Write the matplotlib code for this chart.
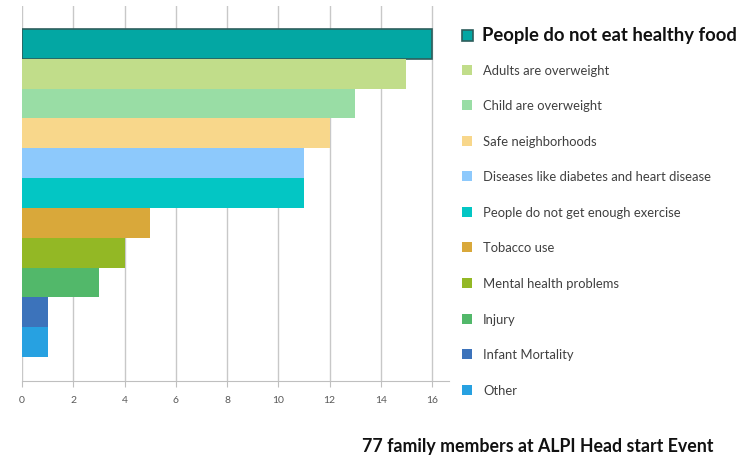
import numpy as np
import matplotlib.pyplot as plt
from matplotlib.patches import Rectangle

categories = [
    "People do not eat healthy food",
    "Adults are overweight",
    "Child are overweight",
    "Safe neighborhoods",
    "Diseases like diabetes and heart disease",
    "People do not get enough exercise",
    "Tobacco use",
    "Mental health problems",
    "Injury",
    "Infant Mortality",
    "Other",
]
values = [16, 15, 13, 12, 11, 11, 5, 4, 3, 1, 1]
colors = ["#03A7A3", "#C1DD8A", "#99DDA5", "#F8D78B", "#8DC9FC",
          "#03C6C4", "#D9A83A", "#93B825", "#52B86A", "#3C73BB", "#27A1E1"]
xticks = [0, 2, 4, 6, 8, 10, 12, 14, 16]
title = "77 family members at ALPI Head start Event"

plt.rcParams['font.family'] = ['Lato', 'DejaVu Sans']

W, H = 746, 456
fig = plt.figure(figsize=(W / 100, H / 100), dpi=100)
ax = fig.add_axes([22 / W, (H - 382) / H, (449 - 22) / W, (382 - 7) / H])

pos = np.arange(len(values))
for i, (v, c) in enumerate(zip(values, colors)):
    edge = "#2E5E5C" if i == 0 else c
    lw = 1.2 if i == 0 else 0
    ax.barh(pos[i], v, height=1.0, color=c, edgecolor=edge, linewidth=lw, zorder=3)

ax.set_xlim(0, 16.66)
ax.set_ylim(11.3, -1.27)
ax.set_xticks(xticks)
ax.set_yticks([])
for t in xticks:
    ax.axvline(t, color="#C8C8C8", linewidth=1, zorder=1)
for s in ["top", "right", "left"]:
    ax.spines[s].set_visible(False)
ax.spines["bottom"].set_color("#BFBFBF")
ax.tick_params(axis="x", colors="#BFBFBF", labelcolor="#595959", labelsize=7.5,
               length=4, direction="out", pad=6)

# legend drawn by hand to match spacing
leg_y = [36, 71, 106, 142, 177, 213, 248, 284, 320, 355, 391]
for i, (lab, c, yy) in enumerate(zip(categories, colors, leg_y)):
    if i == 0:
        sz = 11
        fig.patches.append(Rectangle(((467 - sz / 2) / W, (H - yy - sz / 2) / H), sz / W, sz / H,
                                     transform=fig.transFigure, facecolor=c,
                                     edgecolor="#2E5E5C", linewidth=1.2))
        fig.text(482 / W, (H - yy) / H, lab, fontsize=13.3, fontweight="bold",
                 color="#111111", va="center", ha="left")
    else:
        sz = 10
        fig.patches.append(Rectangle(((467 - sz / 2) / W, (H - yy - sz / 2) / H), sz / W, sz / H,
                                     transform=fig.transFigure, facecolor=c, edgecolor="none"))
        fig.text(483 / W, (H - yy) / H, lab, fontsize=9.4, color="#404040",
                 va="center", ha="left")

fig.text(538 / W, (H - 447) / H, title, fontsize=12.8, fontweight="bold",
         color="#111111", ha="center", va="center")

fig.savefig("out.png", dpi=100)
